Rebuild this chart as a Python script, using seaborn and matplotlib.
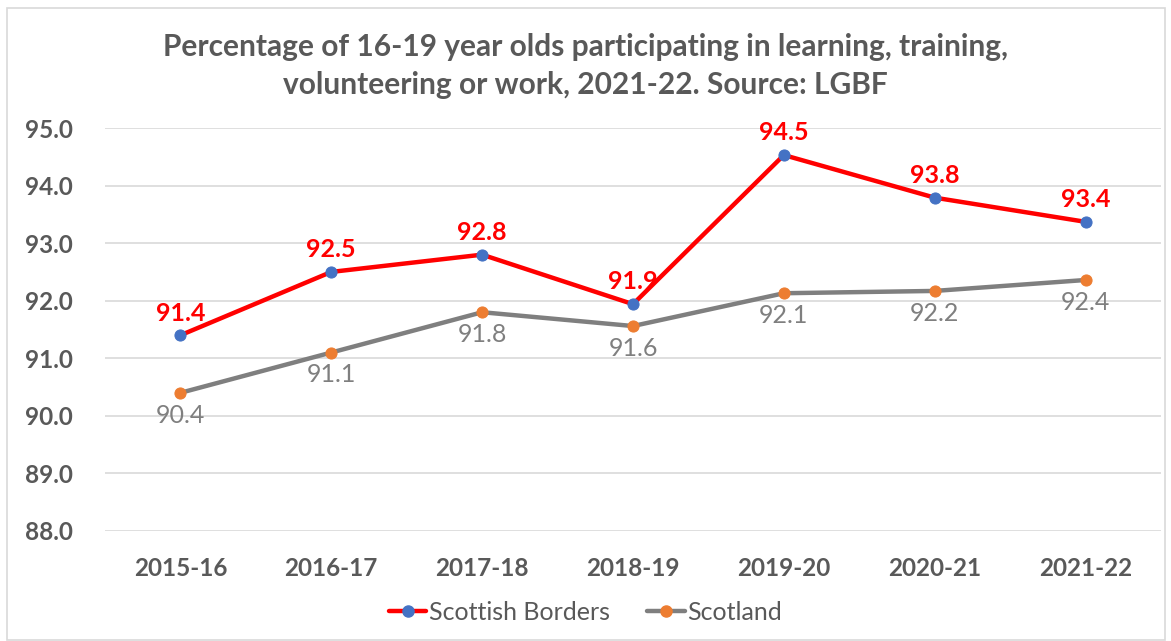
import matplotlib
matplotlib.use("Agg")
import matplotlib.pyplot as plt
import matplotlib.patches as mpatches
from matplotlib.lines import Line2D
import seaborn as sns

# Dati
years = ["2015-16", "2016-17", "2017-18", "2018-19", "2019-20", "2020-21", "2021-22"]
borders = [91.4, 92.5, 92.8, 91.94, 94.53, 93.79, 93.37]
scotland = [90.4, 91.1, 91.8, 91.56, 92.13, 92.17, 92.36]
y_ticks = [88, 89, 90, 91, 92, 93, 94, 95]

sns.set_theme(style="white")
plt.rcParams['font.family'] = ['Lato', 'DejaVu Sans']

RED = "#FF0000"
BLUE = "#4472C4"
GREY = "#7F7F7F"
ORANGE = "#ED7D31"
TXT = "#595959"

fig = plt.figure(figsize=(11.71, 6.41), dpi=100)
ax = fig.add_axes([105 / 1171, 1 - 531 / 641, 1056 / 1171, (531 - 128) / 641])

# Cornice esterna del grafico
fig.patches.append(mpatches.Rectangle((7 / 1171, 0.002), 1158 / 1171, 1 - 8 / 641 - 0.002,
                                      transform=fig.transFigure, fill=False,
                                      edgecolor="#D9D9D9", lw=1.2))

sns.lineplot(x=years, y=borders, color=RED, lw=3.2, marker="o", markersize=8,
             markerfacecolor=BLUE, markeredgecolor=BLUE, ax=ax, sort=False, zorder=3)
sns.lineplot(x=years, y=scotland, color=GREY, lw=3.2, marker="o", markersize=8,
             markerfacecolor=ORANGE, markeredgecolor=ORANGE, ax=ax, sort=False, zorder=3)

# Etichette dei valori
for i, v in enumerate(borders):
    ax.annotate(f"{v:.1f}", (i, v), xytext=(0, 16), textcoords="offset points",
                ha="center", va="center", color=RED, fontsize=18, fontweight="bold")
for i, v in enumerate(scotland):
    ax.annotate(f"{v:.1f}", (i, v), xytext=(0, -16), textcoords="offset points",
                ha="center", va="center", color=GREY, fontsize=18)

ax.set_xlim(-0.5, len(years) - 0.5)
ax.set_ylim(88, 95)
ax.set_yticks(y_ticks)
ax.set_yticklabels([f"{t:.1f}" for t in y_ticks])
ax.yaxis.grid(True, color="#D9D9D9", lw=1.2)
ax.set_axisbelow(True)
for s in ax.spines.values():
    s.set_visible(False)
ax.tick_params(axis="both", length=0, labelsize=17.5, labelcolor=TXT)
ax.tick_params(axis="x", pad=19)
ax.tick_params(axis="y", pad=23)
for lbl in ax.get_xticklabels() + ax.get_yticklabels():
    lbl.set_fontweight("bold")
ax.set_xlabel("")
ax.set_ylabel("")

fig.text(0.5, 1 - 47 / 641, "Percentage of 16-19 year olds participating in learning, training,",
         ha="center", va="center", fontsize=21.5, fontweight="bold", color=TXT)
fig.text(0.5, 1 - 85 / 641, "volunteering or work, 2021-22. Source: LGBF",
         ha="center", va="center", fontsize=21.5, fontweight="bold", color=TXT)

handles = [
    Line2D([], [], color=RED, lw=3.2, marker="o", markersize=8, markerfacecolor=BLUE, markeredgecolor=BLUE),
    Line2D([], [], color=GREY, lw=3.2, marker="o", markersize=8, markerfacecolor=ORANGE, markeredgecolor=ORANGE),
]
leg = fig.legend(handles, ["Scottish Borders", "Scotland"], loc="center",
                 bbox_to_anchor=(0.5, 1 - 612 / 641), ncol=2, frameon=False,
                 fontsize=18, handlelength=1.5, handletextpad=0.1, columnspacing=1.5)
for t in leg.get_texts():
    t.set_color(TXT)

fig.savefig("out.png", dpi=100)
